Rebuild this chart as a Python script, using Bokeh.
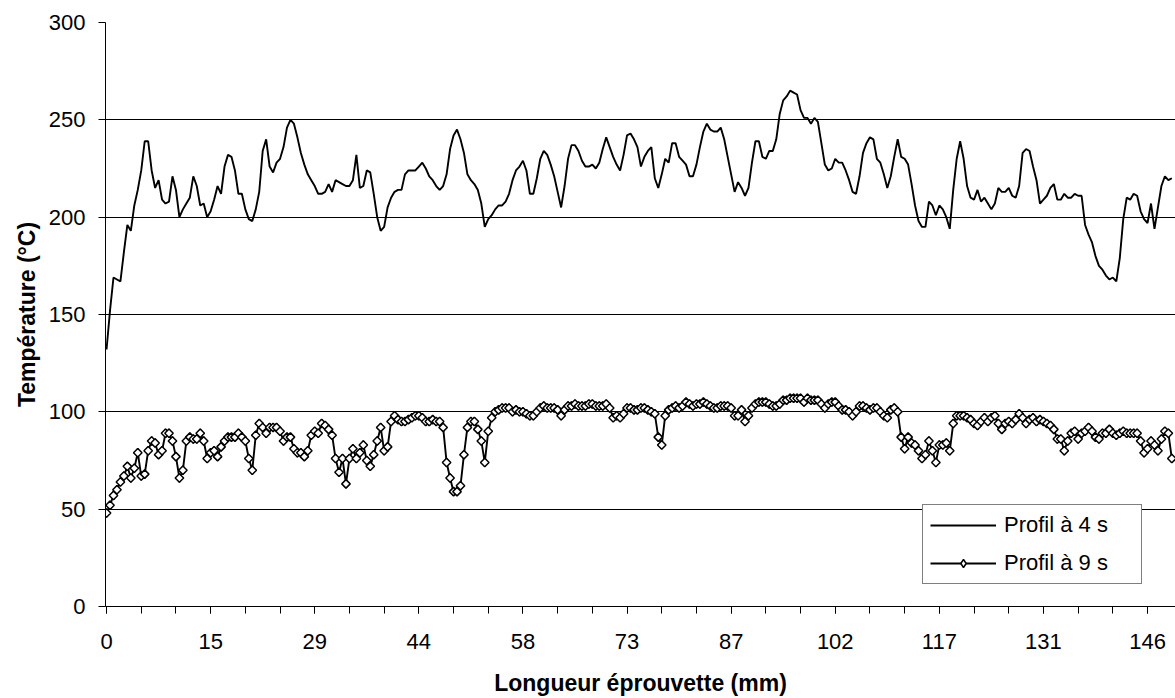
import numpy as np
from bokeh.plotting import figure
from bokeh.models import Range1d, FixedTicker, Legend, LegendItem
from bokeh.embed import file_html
from bokeh.resources import INLINE

# ---------------- data ----------------
x_tick_labels = ["0", "15", "29", "44", "58", "73", "87", "102", "117", "131", "146"]
x_tick_index = [0, 30, 60, 90, 120, 150, 180, 210, 240, 270, 300]
y_ticks = [0, 50, 100, 150, 200, 250, 300]

series_names = ["Profil à 4 s", "Profil à 9 s"]

temp_4s = [
    132, 152, 169, 168, 167, 182, 196, 193, 206, 214,
    224, 239, 239, 224, 215, 219, 209, 207, 208, 221,
    214, 200, 204, 207, 210, 221, 216, 206, 207, 200,
    203, 209, 216, 212, 226, 232, 231, 224, 212, 212,
    204, 199, 198, 204, 213, 234, 240, 226, 223, 228,
    230, 236, 246, 250, 248, 241, 233, 227, 222, 219,
    216, 212, 212, 213, 217, 213, 219, 218, 217, 216,
    216, 219, 232, 215, 216, 224, 223, 212, 200, 193,
    195, 205, 210, 213, 214, 214, 222, 224, 224, 224,
    226, 228, 225, 221, 219, 216, 214, 216, 222, 235,
    242, 245, 240, 233, 222, 219, 217, 214, 207, 195,
    199, 201, 204, 206, 206, 208, 212, 219, 224, 226,
    229, 224, 212, 212, 220, 230, 234, 232, 227, 221,
    213, 205, 216, 230, 237, 237, 234, 229, 226, 226,
    227, 225, 228, 235, 241, 236, 231, 227, 224, 232,
    242, 243, 240, 236, 226, 231, 234, 236, 220, 215,
    222, 230, 228, 238, 238, 231, 229, 227, 221, 221,
    227, 236, 244, 248, 245, 244, 244, 246, 240, 231,
    222, 213, 218, 215, 211, 215, 228, 239, 239, 231,
    230, 234, 234, 240, 253, 260, 262, 265, 264, 263,
    255, 251, 251, 248, 251, 249, 238, 227, 224, 225,
    230, 228, 228, 224, 219, 213, 212, 221, 233, 238,
    241, 240, 230, 228, 222, 215, 221, 231, 240, 231,
    230, 227, 217, 206, 198, 195, 195, 208, 206, 201,
    206, 204, 200, 194, 214, 230, 239, 230, 216, 210,
    209, 214, 208, 210, 207, 204, 207, 215, 213, 213,
    215, 211, 210, 216, 233, 235, 234, 226, 219, 207,
    209, 211, 215, 217, 209, 209, 212, 210, 210, 212,
    211, 211, 196, 191, 187, 180, 175, 173, 170, 168,
    169, 167, 179, 199, 210, 209, 212, 211, 203, 199,
    197, 207, 194, 205, 216, 221, 219, 220,
]

temp_9s = [
    48, 52, 57, 60, 64, 67, 72, 66, 71, 79,
    67, 68, 80, 85, 84, 78, 80, 89, 89, 85,
    77, 66, 70, 85, 87, 86, 86, 89, 85, 76,
    79, 80, 77, 82, 85, 87, 87, 87, 89, 87,
    85, 76, 70, 88, 94, 92, 89, 92, 92, 92,
    90, 85, 87, 87, 81, 79, 79, 77, 80, 88,
    90, 89, 94, 93, 91, 88, 76, 69, 76, 63,
    76, 81, 76, 79, 83, 75, 72, 78, 85, 92,
    80, 82, 95, 98, 96, 95, 95, 96, 97, 98,
    98, 97, 95, 95, 96, 95, 95, 92, 74, 66,
    59, 59, 62, 78, 92, 95, 95, 91, 85, 74,
    90, 97, 100, 101, 102, 102, 102, 100, 101, 100,
    100, 99, 98, 98, 100, 102, 103, 102, 102, 102,
    101, 98, 101, 103, 103, 104, 103, 103, 103, 104,
    104, 103, 103, 103, 104, 102, 97, 98, 97, 99,
    102, 102, 101, 101, 102, 102, 101, 100, 99, 87,
    83, 98, 101, 102, 103, 102, 103, 105, 104, 103,
    104, 104, 105, 104, 103, 102, 102, 103, 103, 103,
    102, 98, 98, 101, 95, 98, 102, 104, 105, 105,
    105, 104, 103, 103, 104, 106, 106, 107, 107, 107,
    107, 105, 107, 106, 106, 106, 104, 102, 104, 105,
    105, 103, 101, 101, 100, 98, 100, 103, 103, 102,
    101, 102, 102, 100, 98, 97, 101, 102, 100, 87,
    81, 87, 84, 83, 80, 76, 78, 85, 80, 74,
    83, 83, 84, 80, 94, 98, 98, 98, 97, 96,
    94, 93, 95, 97, 95, 97, 98, 94, 91, 94,
    95, 94, 96, 99, 97, 94, 96, 97, 95, 96,
    95, 94, 93, 91, 86, 86, 80, 85, 89, 90,
    86, 89, 90, 92, 90, 87, 86, 89, 89, 91,
    89, 88, 89, 90, 89, 89, 89, 89, 85, 79,
    81, 85, 83, 80, 86, 90, 89, 76,
]

idx = list(range(len(temp_4s)))

# ---------------- figure ----------------
FONT = "Liberation Sans"
W, H = 1175, 698
FRAME_L, FRAME_T, FRAME_B = 105, 22, 606

x_end = -0.3 + (W - FRAME_L) / 3.47

p = figure(width=W, height=H, output_backend="svg", toolbar_location=None,
           x_range=Range1d(-0.3, x_end), y_range=Range1d(0, 300),
           min_border_left=FRAME_L, min_border_right=0, min_border_top=FRAME_T,
           min_border_bottom=H - FRAME_B)
p.outline_line_color = None
p.background_fill_color = "white"
p.border_fill_color = "white"

# axes
p.yaxis.ticker = FixedTicker(ticks=y_ticks)
p.xaxis.ticker = FixedTicker(ticks=x_tick_index, minor_ticks=list(range(0, 310, 10)))
p.xaxis.major_label_overrides = {t: lab for t, lab in zip(x_tick_index, x_tick_labels)}

for ax in p.axis:
    ax.axis_line_color = "black"
    ax.axis_line_width = 1
    ax.major_tick_line_color = "black"
    ax.major_tick_in = 0
    ax.major_tick_out = 7
    ax.major_label_text_font = FONT
    ax.major_label_text_font_size = "22px"
    ax.major_label_text_color = "black"
    ax.axis_label_text_font = FONT
    ax.axis_label_text_font_size = "23px"
    ax.axis_label_text_font_style = "bold"
    ax.axis_label_text_color = "black"

p.yaxis.minor_tick_line_color = None
p.yaxis.major_label_standoff = 13
p.yaxis.axis_label = "Température (°C)"
p.yaxis.axis_label_standoff = 6

p.xaxis.minor_tick_line_color = "black"
p.xaxis.minor_tick_in = 0
p.xaxis.minor_tick_out = 7
p.xaxis.major_label_standoff = 20
p.xaxis.axis_label = "Longueur éprouvette (mm)"
p.xaxis.axis_label_standoff = 18

p.xgrid.visible = False
p.ygrid.grid_line_color = "black"
p.ygrid.grid_line_width = 1

# series
l4 = p.line(idx, temp_4s, line_color="black", line_width=1.9)
l9 = p.line(idx, temp_9s, line_color="black", line_width=1.9)
# diamond marks (drawn under the rotated squares; also used as legend key)
d9 = p.scatter(idx, temp_9s, marker="diamond", size=8,
               fill_color="white", line_color="black", line_width=1.5)
s9 = p.scatter(idx, temp_9s, marker="square", angle=np.pi / 4, size=6,
               fill_color="white", line_color="black", line_width=1.5)

legend = Legend(items=[LegendItem(label=series_names[0], renderers=[l4]),
                       LegendItem(label=series_names[1], renderers=[l9, d9])],
                location=(817, 22))
legend.margin = 0
legend.padding = 7
legend.spacing = 12
legend.glyph_width = 66
legend.glyph_height = 20
legend.label_standoff = 8
legend.label_width = 130
legend.label_text_font = FONT
legend.label_text_font_size = "22px"
legend.label_text_color = "black"
legend.border_line_color = "black"
legend.border_line_width = 1
legend.background_fill_color = "white"
legend.background_fill_alpha = 1.0
p.add_layout(legend)

open("out.html", "w").write(file_html(p, INLINE))
